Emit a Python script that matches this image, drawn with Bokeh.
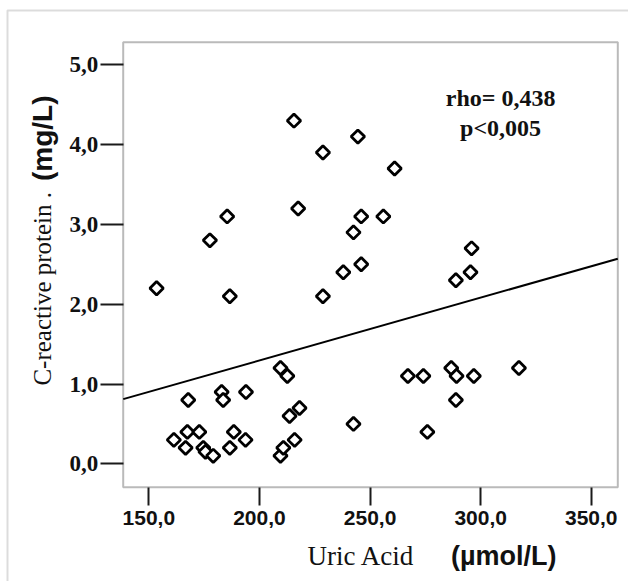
import numpy as np
from bokeh.plotting import figure
from bokeh.models import (Range1d, FixedTicker, CustomJSTickFormatter, Label,
                          BoxAnnotation, ColumnDataSource)
from bokeh.embed import file_html
from bokeh.resources import INLINE

# ---- data ----
uric_acid = [153.5, 161.3, 166.6, 167.4, 167.8, 172.8, 174.6, 175.6, 177.6, 179.1,
             182.9, 183.6, 185.4, 186.6, 186.6, 188.4, 193.7, 193.9, 209.5, 209.5,
             210.8, 212.6, 213.6, 215.6, 215.9, 217.5, 218.1, 228.7, 228.7, 237.9,
             242.5, 242.5, 244.5, 246.0, 246.0, 256.0, 261.1, 267.1, 274.1, 275.9,
             286.7, 288.8, 289.1, 288.8, 295.4, 295.9, 296.9, 317.3]
crp = [2.2, 0.3, 0.2, 0.4, 0.8, 0.4, 0.2, 0.15, 2.8, 0.1,
       0.9, 0.8, 3.1, 2.1, 0.2, 0.4, 0.3, 0.9, 1.2, 0.1,
       0.2, 1.1, 0.6, 4.3, 0.3, 3.2, 0.7, 3.9, 2.1, 2.4,
       2.9, 0.5, 4.1, 3.1, 2.5, 3.1, 3.7, 1.1, 1.1, 0.4,
       1.2, 2.3, 1.1, 0.8, 2.4, 2.7, 1.1, 1.2]
fit_slope = 0.00787
fit_intercept = -0.279
x_ticks = [150, 200, 250, 300, 350]
y_ticks = [0, 1, 2, 3, 4, 5]
stat_lines = ["rho= 0,438", "p<0,005"]
x_title = ["Uric Acid", "(\u00b5mol/L)"]
y_title = ["C-reactive protein .", "(mg/L)"]

# plot box (data extent of the framed area)
box_x = (138.4, 362.0)
box_y = (-0.293, 5.283)

# canvas geometry (pixels)
W, H = 628, 581
box_px_left, box_px_right = 122.7, 617.3
box_px_top, box_px_bottom = 41.7, 486.7

sx = (box_x[1] - box_x[0]) / (box_px_right - box_px_left)
sy = (box_y[1] - box_y[0]) / (box_px_bottom - box_px_top)
xr = Range1d(box_x[0] - box_px_left * sx, box_x[1] + (W - box_px_right) * sx)
yr = Range1d(box_y[0] - (H - box_px_bottom) * sy, box_y[1] + box_px_top * sy)

p = figure(width=W, height=H, output_backend="svg", toolbar_location=None,
           x_range=xr, y_range=yr,
           min_border_left=0, min_border_right=0, min_border_top=0,
           min_border_bottom=0)
p.background_fill_color = "white"
p.border_fill_color = "white"
p.grid.visible = False
p.outline_line_color = None

fmt = CustomJSTickFormatter(code="return tick.toFixed(1).replace('.', ',');")
for ax, ticks in ((p.xaxis[0], x_ticks), (p.yaxis[0], y_ticks)):
    ax.ticker = FixedTicker(ticks=ticks)
    ax.formatter = fmt
    ax.axis_line_color = None
    ax.major_tick_in = 0
    ax.minor_tick_line_color = None
    ax.major_tick_line_color = "#1a1a1a"
    ax.major_tick_line_width = 2
    ax.major_label_text_color = "#111111"
    ax.major_label_text_font_style = "bold"

p.xaxis.fixed_location = box_y[0]
p.yaxis.fixed_location = box_x[0]

p.yaxis.major_tick_out = 23
p.yaxis.major_label_standoff = 2
p.yaxis.major_label_text_font = "Liberation Serif"
p.yaxis.major_label_text_font_size = "23px"
p.xaxis.major_tick_out = 18
p.xaxis.major_label_standoff = 6
p.xaxis.major_label_text_font = "Liberation Sans"
p.xaxis.major_label_text_font_size = "21px"

# plot box outline
p.add_layout(BoxAnnotation(left=box_x[0], right=box_x[1], bottom=box_y[0], top=box_y[1],
                           fill_color=None, line_color="#1a1a1a", line_width=2))

# regression line
lx = np.array(box_x)
p.line(lx, fit_intercept + fit_slope * lx, line_color="black", line_width=2)

src = ColumnDataSource(dict(x=uric_acid, y=crp))
p.scatter("x", "y", source=src, marker="square", angle=np.pi / 4, size=9.5,
          fill_color="white", line_color="black", line_width=2.8)

# stats text
for txt, yy in zip(stat_lines, (4.59, 4.21)):
    p.add_layout(Label(x=309, y=yy, text=txt, text_align="center",
                       text_baseline="middle", text_font="Liberation Serif",
                       text_font_style="bold", text_font_size="24px",
                       text_color="#111111"))

# axis titles (mixed fonts)
p.add_layout(Label(x=221.7, y=-1.16, text=x_title[0], text_align="left",
                   text_baseline="middle", text_font="Liberation Serif",
                   text_font_size="27px", text_color="#111111"))
p.add_layout(Label(x=334.3, y=-1.16, text=x_title[1], text_align="right",
                   text_baseline="middle", text_font="Liberation Sans",
                   text_font_style="bold", text_font_size="27px", text_color="#111111"))
p.add_layout(Label(x=101.9, y=0.98, text=y_title[0], text_align="left",
                   text_baseline="middle", angle=np.pi / 2, text_font="Liberation Serif",
                   text_font_size="25px", text_color="#111111"))
p.add_layout(Label(x=101.9, y=4.615, text=y_title[1], text_align="right",
                   text_baseline="middle", angle=np.pi / 2, text_font="Liberation Sans",
                   text_font_style="bold", text_font_size="28px", text_color="#111111"))

# outer border
p.add_layout(BoxAnnotation(left=7, right=W + 50, top=10, bottom=H + 50,
                           left_units="canvas", right_units="canvas",
                           top_units="canvas", bottom_units="canvas",
                           fill_color=None, line_color="#8a8a8a", line_width=2))

open("out.html", "w").write(file_html(p, INLINE))
